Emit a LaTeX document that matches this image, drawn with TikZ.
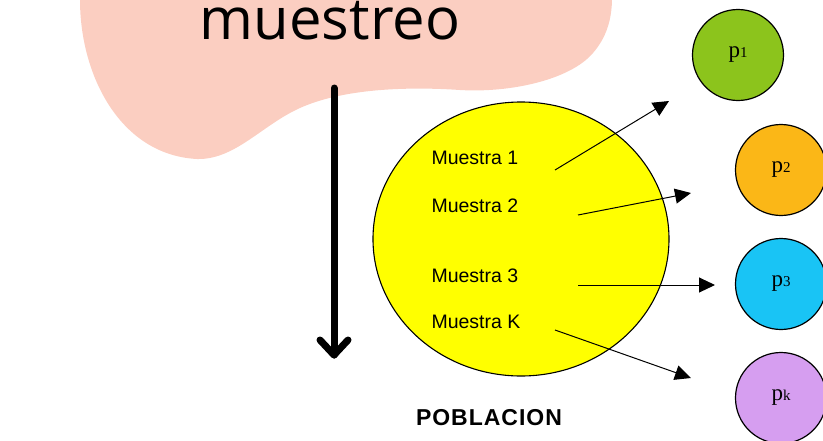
\documentclass[tikz,border=0pt]{standalone}
\usepackage{fontspec}
\setmainfont{Liberation Sans}
\newfontfamily\titlefont{Open Sans}
\newfontfamily\pfont{Liberation Serif}
\usetikzlibrary{arrows.meta}
\definecolor{blobpink}{HTML}{FBCEC1}
\definecolor{pgreen}{HTML}{8CC41C}
\definecolor{porange}{HTML}{FBB717}
\definecolor{pcyan}{HTML}{19C4F5}
\definecolor{plilac}{HTML}{D69EF0}
\definecolor{popyellow}{HTML}{FFFF00}
\tikzset{
  pcirc/.style={circle,draw=black,line width=1.2pt,minimum size=91pt,inner sep=0pt,font=\pfont\fontsize{23}{23}\selectfont},
  mtext/.style={anchor=west,font=\fontsize{19.5}{20}\selectfont},
  thinarrow/.style={line width=1pt,-{Triangle[length=16pt,width=15pt]}},
}
\newcommand{\psub}[1]{p{\fontsize{15}{15}\selectfont #1}}
\begin{document}
\begin{tikzpicture}[x=1pt,y=-1pt]
\useasboundingbox (0,0) rectangle (823,440);
% pink blob
\fill[blobpink] (80,-2) -- (80,0) .. controls (80,75) and (120,155) .. (197,159)
  .. controls (235,160) and (262,125) .. (300,108)
  .. controls (340,90) and (400,86) .. (460,90)
  .. controls (510,93) and (570,80) .. (593,53)
  .. controls (606,38) and (612,20) .. (612,-2) -- cycle;
\node[anchor=base,font=\titlefont\fontsize{58}{58}\selectfont,inner sep=0pt] (title) at (330,39) {muestreo};
% thick down arrow
\coordinate (atop) at (334,88);
\coordinate (abot) at (334,355);
\draw[line width=7pt,line cap=round,line join=round] (atop) -- (abot);
\draw[line width=7pt,line cap=round,line join=round] ([shift={(-14,-15)}]abot) -- (abot) -- ([shift={(14,-15)}]abot);
% population
\draw[fill=popyellow,line width=1.1pt] (521,239) ellipse [x radius=148, y radius=137];
\node[mtext] (m1) at (428,158) {Muestra 1};
\node[mtext] (m2) at (428,206) {Muestra 2};
\node[mtext] (m3) at (428,276) {Muestra 3};
\node[mtext] (mk) at (428,322) {Muestra K};
\node[font=\bfseries\fontsize{23}{23}\selectfont] (pob) at (489,418) {P\kern1pt O\kern1pt B\kern1pt L\kern1pt A\kern1pt C\kern1pt I\kern1pt O\kern1pt N};
% p circles
\node[pcirc,fill=pgreen] (p1) at (738,55) {\psub{1}};
\node[pcirc,fill=porange] (p2) at (781,170) {\psub{2}};
\node[pcirc,fill=pcyan] (p3) at (781,284) {\psub{3}};
\node[pcirc,fill=plilac] (pk) at (781,398) {\psub{k}};
% arrows
\coordinate (s1) at (555,170); \coordinate (e1) at (669,101);
\coordinate (s2) at (578,215); \coordinate (e2) at (691,193);
\coordinate (s3) at (578,285); \coordinate (e3) at (715,285);
\coordinate (s4) at (555,330); \coordinate (e4) at (691,378);
\draw[thinarrow] (s1) -- (e1);
\draw[thinarrow] (s2) -- (e2);
\draw[thinarrow] (s3) -- (e3);
\draw[thinarrow] (s4) -- (e4);
\end{tikzpicture}
\end{document}
